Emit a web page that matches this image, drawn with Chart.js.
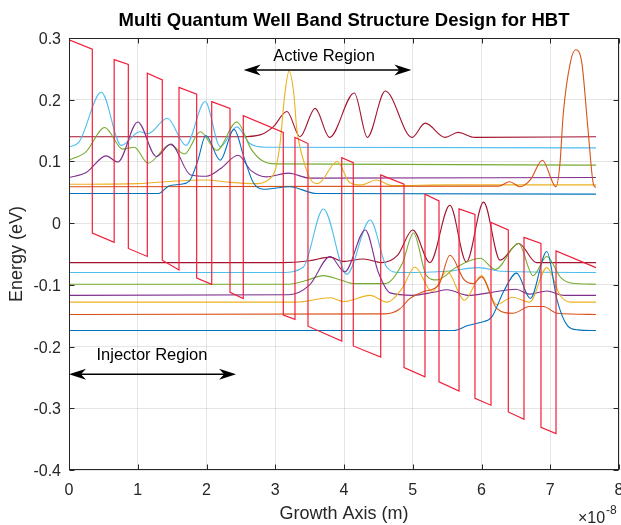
<!DOCTYPE html>
<html>
<head>
<meta charset="utf-8">
<title>Multi Quantum Well Band Structure Design for HBT</title>
<script src="https://cdn.jsdelivr.net/npm/chart.js@4.4.0/dist/chart.umd.min.js"></script>
<style>
    html, body { margin: 0; padding: 0; background: #fff; }
    canvas { display: block; }
</style>
</head>
<body>
<canvas id="bandChart" width="621" height="525"></canvas>
<script>
// Growth axis in units of 1e-8 m, energy in eV

// Conduction band edge (red sawtooth)
const bandEdge = [
    [0, 0.297], [0.339, 0.282], [0.339, -0.016], [0.657, -0.031],
    [0.657, 0.265], [0.863, 0.257], [0.863, -0.041], [1.139, -0.054],
    [1.139, 0.243], [1.357, 0.232], [1.357, -0.060], [1.600, -0.076],
    [1.600, 0.220], [1.857, 0.209], [1.857, -0.089], [2.076, -0.099],
    [2.076, 0.197], [2.342, 0.186], [2.342, -0.112], [2.535, -0.122],
    [2.535, 0.174], [3.117, 0.147], [3.117, -0.149], [3.287, -0.156],
    [3.287, 0.139], [3.476, 0.129], [3.476, -0.167], [3.967, -0.191],
    [3.967, 0.106], [4.135, 0.098], [4.135, -0.199], [4.534, -0.217],
    [4.534, 0.078], [4.873, 0.063], [4.873, -0.234], [5.178, -0.249],
    [5.178, 0.047], [5.382, 0.036], [5.382, -0.257], [5.673, -0.272],
    [5.673, 0.023], [5.905, 0.014], [5.905, -0.284], [6.138, -0.295],
    [6.138, 0.001], [6.390, -0.011], [6.390, -0.306], [6.618, -0.318],
    [6.618, -0.023], [6.865, -0.033], [6.865, -0.331], [7.084, -0.341],
    [7.084, -0.045], [7.665, -0.072]
];

// Upper subbands (offset wavefunctions)
const upperBlue = [[0, 0.048], [1.3, 0.048], [1.45, 0.060], [1.62, 0.063], [1.75, 0.068], [1.87, 0.100], [1.99, 0.142], [2.2, 0.102], [2.4, 0.152], [2.55, 0.105], [2.68, 0.066], [2.83, 0.055], [3.21, 0.059], [3.6, 0.048], [7.665, 0.047]];
const upperOrange = [[0, 0.059], [6.25, 0.060], [6.41, 0.067], [6.56, 0.059], [6.71, 0.070], [6.885, 0.102], [7.084, 0.059], [7.14, 0.095], [7.19, 0.178], [7.29, 0.259], [7.37, 0.281], [7.46, 0.259], [7.55, 0.151], [7.63, 0.062], [7.665, 0.058]];
const upperYellow = [[0, 0.063], [1.0, 0.064], [1.5, 0.068], [2.0, 0.070], [2.35, 0.066], [2.75, 0.064], [2.92, 0.072], [3.0, 0.086], [3.07, 0.129], [3.14, 0.210], [3.2, 0.246], [3.27, 0.210], [3.31, 0.156], [3.41, 0.102], [3.55, 0.066], [3.62, 0.064], [3.9, 0.100], [4.08, 0.066], [4.25, 0.062], [4.47, 0.070], [4.7, 0.061], [5.5, 0.062], [7.665, 0.062]];
const upperPurple = [[0, 0.074], [0.25, 0.082], [0.54, 0.109], [0.71, 0.099], [1.0, 0.164], [1.27, 0.108], [1.48, 0.128], [1.77, 0.078], [2.0, 0.076], [2.2, 0.088], [2.46, 0.110], [2.65, 0.085], [2.87, 0.075], [3.19, 0.081], [3.5, 0.073], [7.665, 0.074]];
const upperGreen = [[0, 0.102], [0.25, 0.116], [0.52, 0.155], [0.78, 0.120], [0.95, 0.123], [1.15, 0.097], [1.47, 0.127], [1.68, 0.112], [1.91, 0.148], [2.15, 0.118], [2.44, 0.164], [2.65, 0.120], [2.8, 0.102], [3.0, 0.096], [7.665, 0.094]];
const upperLightBlue = [[0, 0.123], [0.15, 0.132], [0.47, 0.212], [0.76, 0.126], [1.03, 0.148], [1.15, 0.145], [1.43, 0.170], [1.70, 0.126], [1.98, 0.197], [2.2, 0.124], [2.44, 0.156], [2.63, 0.129], [2.85, 0.123], [7.665, 0.122]];
const upperDarkRed = [[0, 0.140], [2.5, 0.140], [2.78, 0.143], [2.97, 0.156], [3.17, 0.181], [3.36, 0.140], [3.58, 0.186], [3.79, 0.139], [4.15, 0.211], [4.34, 0.139], [4.6, 0.214], [4.99, 0.139], [5.18, 0.162], [5.47, 0.139], [5.66, 0.147], [5.9, 0.139], [7.665, 0.140]];

// Lower subbands
const lowerBlue = [[0, -0.174], [5.6, -0.174], [5.8, -0.166], [5.98, -0.161], [6.15, -0.152], [6.32, -0.111], [6.51, -0.081], [6.71, -0.122], [6.95, -0.046], [7.1, -0.125], [7.25, -0.166], [7.4, -0.173], [7.665, -0.174]];
const lowerOrange = [[0, -0.148], [4.6, -0.147], [4.8, -0.140], [4.96, -0.122], [5.15, -0.111], [5.38, -0.100], [5.54, -0.052], [5.75, -0.092], [5.88, -0.098], [6.0, -0.087], [6.22, -0.138], [6.46, -0.146], [6.7, -0.135], [6.9, -0.135], [7.1, -0.146], [7.665, -0.148]];
const lowerYellow = [[0, -0.128], [3.3, -0.128], [3.8, -0.121], [4.0, -0.127], [4.38, -0.117], [4.62, -0.128], [4.85, -0.105], [5.03, -0.071], [5.28, -0.111], [5.5, -0.078], [5.75, -0.125], [6.0, -0.085], [6.22, -0.132], [6.45, -0.120], [6.7, -0.128], [6.95, -0.072], [7.15, -0.118], [7.3, -0.128], [7.665, -0.128]];
const lowerPurple = [[0, -0.117], [3.2, -0.116], [3.5, -0.100], [3.8, -0.054], [4.01, -0.079], [4.31, -0.011], [4.5, -0.080], [4.67, -0.113], [5.0, -0.117], [5.3, -0.112], [5.5, -0.108], [5.8, -0.117], [6.1, -0.113], [6.5, -0.107], [6.7, -0.115], [6.95, -0.110], [7.2, -0.117], [7.665, -0.117]];
const lowerGreen = [[0, -0.099], [3.2, -0.099], [3.45, -0.093], [3.7, -0.085], [3.95, -0.092], [4.15, -0.098], [4.6, -0.098], [4.85, -0.065], [5.01, -0.016], [5.2, -0.085], [5.35, -0.092], [5.64, -0.071], [5.98, -0.057], [6.2, -0.075], [6.54, -0.033], [6.75, -0.085], [6.95, -0.054], [7.15, -0.088], [7.3, -0.097], [7.665, -0.099]];
const lowerLightBlue = [[0, -0.080], [3.1, -0.080], [3.41, -0.071], [3.7, 0.023], [4.04, -0.083], [4.38, 0.005], [4.62, -0.071], [4.8, -0.080], [5.5, -0.078], [5.95, -0.072], [6.3, -0.078], [7.665, -0.080]];
const lowerDarkRed = [[0, -0.064], [3.1, -0.064], [3.5, -0.061], [3.8, -0.055], [3.98, -0.062], [4.28, -0.058], [4.55, -0.064], [4.78, -0.052], [5.0, -0.011], [5.25, -0.064], [5.54, 0.029], [5.78, -0.063], [6.03, 0.034], [6.27, -0.060], [6.54, -0.033], [6.8, -0.064], [7.665, -0.064]];

// Axis ticks
const xTicks = [0, 1, 2, 3, 4, 5, 6, 7, 8];
const xTickLabels = ['0', '1', '2', '3', '4', '5', '6', '7', '8'];
const yTicks = [-0.4, -0.3, -0.2, -0.1, 0, 0.1, 0.2, 0.3];
const yTickLabels = ['-0.4', '-0.3', '-0.2', '-0.1', '0', '0.1', '0.2', '0.3'];

// MATLAB default line colours
const palette = {
    blue: '#0072BD', orange: '#D95319', yellow: '#EDB120', purple: '#7E2F8E',
    green: '#77AC30', lightBlue: '#4DBEEE', darkRed: '#A2142F'
};

const FONT = '"Liberation Sans", Arial, Helvetica, sans-serif';
const INK = '#262626';

const toPoints = (arr) => arr.map(([x, y]) => ({ x, y }));

const waveSet = (curve, color) => ({
    data: toPoints(curve),
    borderColor: color,
    borderWidth: 1.1,
    showLine: true,
    pointRadius: 0,
    cubicInterpolationMode: 'monotone',
    order: 1
});

const datasets = [
    waveSet(upperBlue, palette.blue),
    waveSet(upperOrange, palette.orange),
    waveSet(upperYellow, palette.yellow),
    waveSet(upperPurple, palette.purple),
    waveSet(upperGreen, palette.green),
    waveSet(upperLightBlue, palette.lightBlue),
    waveSet(upperDarkRed, palette.darkRed),
    waveSet(lowerBlue, palette.blue),
    waveSet(lowerOrange, palette.orange),
    waveSet(lowerYellow, palette.yellow),
    waveSet(lowerPurple, palette.purple),
    waveSet(lowerGreen, palette.green),
    waveSet(lowerLightBlue, palette.lightBlue),
    waveSet(lowerDarkRed, palette.darkRed),
    {
        data: toPoints(bandEdge),
        borderColor: '#f0203a',
        borderWidth: 1.2,
        showLine: true,
        pointRadius: 0,
        tension: 0,
        order: 0
    }
];

// Double-headed arrow like MATLAB annotation
const drawArrow = (ctx, x1, x2, yy) => {
    ctx.lineWidth = 1.5;
    ctx.beginPath();
    ctx.moveTo(x1 + 8, yy);
    ctx.lineTo(x2 - 8, yy);
    ctx.stroke();
    [[x1, 1], [x2, -1]].forEach(([tip, dir]) => {
        ctx.beginPath();
        ctx.moveTo(tip, yy);
        ctx.lineTo(tip + dir * 17, yy - 5.5);
        ctx.lineTo(tip + dir * 12, yy);
        ctx.lineTo(tip + dir * 17, yy + 5.5);
        ctx.closePath();
        ctx.fill();
    });
};

const axesFrame = {
    id: 'axesFrame',
    afterDraw(chart) {
        const { ctx, chartArea: a, scales: { x, y } } = chart;
        ctx.save();
        ctx.strokeStyle = INK;
        ctx.fillStyle = INK;

        // box and inward ticks
        ctx.lineWidth = 1;
        const L = Math.round(a.left) + 0.5, R = Math.round(a.right) - 0.5;
        const T = Math.round(a.top) + 0.5, B = Math.round(a.bottom) - 0.5;
        ctx.strokeRect(L, T, R - L, B - T);
        ctx.beginPath();
        xTicks.forEach(v => {
            const px = Math.round(x.getPixelForValue(v)) + 0.5;
            ctx.moveTo(px, B); ctx.lineTo(px, B - 5);
            ctx.moveTo(px, T); ctx.lineTo(px, T + 5);
        });
        yTicks.forEach(v => {
            const py = Math.round(y.getPixelForValue(v)) + 0.5;
            ctx.moveTo(L, py); ctx.lineTo(L + 5, py);
            ctx.moveTo(R, py); ctx.lineTo(R - 5, py);
        });
        ctx.stroke();

        // tick labels
        ctx.font = `16px ${FONT}`;
        ctx.textBaseline = 'alphabetic';
        ctx.textAlign = 'center';
        xTicks.forEach((v, i) => ctx.fillText(xTickLabels[i], x.getPixelForValue(v), a.bottom + 25));
        ctx.textAlign = 'right';
        yTicks.forEach((v, i) => ctx.fillText(yTickLabels[i], a.left - 8, y.getPixelForValue(v) + 6));

        // exponent
        ctx.textAlign = 'left';
        ctx.fillText('\u00d710', 578, 523);
        ctx.font = `12px ${FONT}`;
        ctx.fillText('-8', 606, 514);

        // axis labels
        ctx.font = `18px ${FONT}`;
        ctx.textAlign = 'center';
        ctx.fillText('Growth Axis (m)', (a.left + a.right) / 2, 519);
        ctx.save();
        ctx.translate(22, (a.top + a.bottom) / 2);
        ctx.rotate(-Math.PI / 2);
        ctx.fillText('Energy (eV)', 0, 0);
        ctx.restore();

        // title
        ctx.font = `bold 18.5px ${FONT}`;
        ctx.fillStyle = '#000';
        ctx.fillText('Multi Quantum Well Band Structure Design for HBT', (a.left + a.right) / 2, 26);

        // region annotations
        ctx.fillStyle = '#000';
        ctx.strokeStyle = '#000';
        ctx.font = `16.5px ${FONT}`;
        ctx.fillText('Active Region', x.getPixelForValue(3.71), y.getPixelForValue(0.2725) + 6);
        ctx.fillText('Injector Region', x.getPixelForValue(1.207), y.getPixelForValue(-0.212) + 6);
        drawArrow(ctx, x.getPixelForValue(2.54), x.getPixelForValue(4.98), y.getPixelForValue(0.248));
        drawArrow(ctx, x.getPixelForValue(0), x.getPixelForValue(2.43), y.getPixelForValue(-0.245));

        ctx.restore();
    }
};

const gridStyle = {
    color: 'rgba(38,38,38,0.12)',
    lineWidth: 1,
    drawTicks: false
};

new Chart(document.getElementById('bandChart'), {
    type: 'scatter',
    data: { datasets },
    options: {
        responsive: false,
        animation: false,
        devicePixelRatio: 1,
        layout: { autoPadding: false, padding: { left: 0, right: 2, top: 38, bottom: 0 } },
        plugins: { legend: { display: false }, tooltip: { enabled: false }, title: { display: false } },
        scales: {
            x: {
                type: 'linear', min: 0, max: 8,
                ticks: { display: false, stepSize: 1 },
                grid: gridStyle,
                border: { display: false },
                afterFit: (scale) => { scale.height = 55; }
            },
            y: {
                type: 'linear', min: -0.4, max: 0.3,
                ticks: { display: false, stepSize: 0.1 },
                grid: gridStyle,
                border: { display: false },
                afterFit: (scale) => { scale.width = 69; }
            }
        }
    },
    plugins: [axesFrame]
});
</script>
</body>
</html>
